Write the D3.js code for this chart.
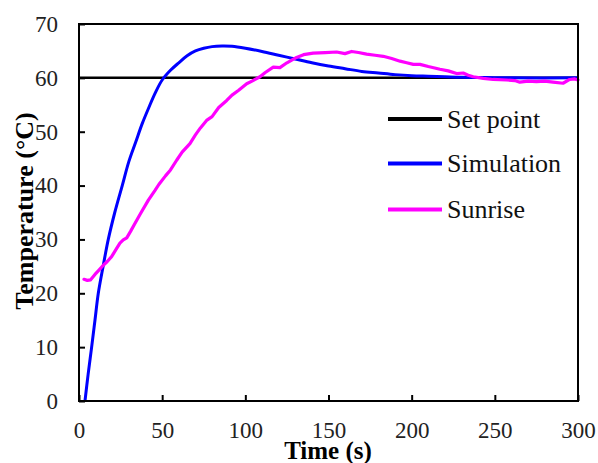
<!DOCTYPE html>
<html>
<head>
<meta charset="utf-8">
<script src="https://cdn.jsdelivr.net/npm/d3@7"></script>
<style>
  html, body { margin: 0; padding: 0; background: #fff; }
  svg { display: block; }
</style>
</head>
<body>
<svg id="chart" width="598" height="463"></svg>
<script>
// ---- data ----
const xTicks = [0, 50, 100, 150, 200, 250, 300];
const yTicks = [0, 10, 20, 30, 40, 50, 60, 70];
const seriesNames = ["Set point", "Simulation", "Sunrise"];
const seriesColors = ["#000000", "#0000ff", "#ff00ff"];

const setPointTime = [0, 300];
const setPointTemp = [60, 60];

const simTime = [3.6, 5.5, 7.6, 9.6, 11.6, 14.5, 17.6, 21.5, 26, 30, 34, 38, 42, 46, 50, 55, 60, 65, 70, 75, 80, 86, 92, 100, 110, 120, 130, 140, 150, 160, 170, 180, 190, 200, 210, 220, 230, 245, 260, 300];
const simTemp = [0, 5, 10, 15, 20, 25, 30, 35, 40, 44.5, 48, 51.5, 54.5, 57.3, 59.6, 61.4, 62.8, 64.1, 65, 65.5, 65.8, 65.9, 65.85, 65.5, 64.9, 64.2, 63.5, 62.8, 62.2, 61.7, 61.2, 60.9, 60.6, 60.4, 60.3, 60.2, 60.1, 60.05, 60, 60];

const sunTime = [3, 5, 7, 9.6, 12, 14.6, 17, 19.6, 22, 24.6, 26.6, 28.7, 31, 33.7, 37, 41.7, 45.7, 48, 52, 55, 58.7, 62, 66.7, 70, 73, 76.7, 80, 84, 88.8, 92, 96, 100.8, 104, 108.8, 112, 116.8, 120.8, 125, 130.8, 135, 140.8, 148, 154.9, 159.9, 163.9, 168, 172.9, 178, 182.9, 188, 193, 197, 201, 205, 210, 217, 222, 227, 231, 234, 237, 243, 249, 257, 262, 265, 270, 275, 280, 285, 291, 295, 298, 300];
const sunTemp = [22.6, 22.4, 22.5, 23.5, 24.3, 25.2, 25.9, 26.8, 28, 29.3, 29.9, 30.3, 31.5, 33, 34.8, 37.3, 39.1, 40.2, 41.8, 42.9, 44.7, 46.2, 47.8, 49.4, 50.7, 52.1, 52.8, 54.5, 55.8, 56.8, 57.7, 58.9, 59.4, 60.2, 61, 62, 61.9, 62.8, 63.8, 64.3, 64.6, 64.7, 64.8, 64.5, 64.9, 64.7, 64.4, 64.2, 64, 63.6, 63.1, 62.8, 62.5, 62.5, 62.1, 61.6, 61.3, 60.8, 60.9, 60.5, 60.2, 59.9, 59.7, 59.6, 59.5, 59.2, 59.4, 59.3, 59.4, 59.2, 59.0, 59.7, 59.8, 59.6];

// ---- layout ----
const FONT = "Liberation Serif";
const svg = d3.select("#chart");
const L = 79, R = 578, T = 24, B = 401;
const x = d3.scaleLinear().domain([0, 300]).range([L, R]);
const y = d3.scaleLinear().domain([0, 70]).range([B, T]);
const labelColor = "#222";

// axes
const xAxis = svg.append("g").attr("transform", `translate(0,${B})`)
  .call(d3.axisBottom(x).tickValues(xTicks).tickSizeInner(-6).tickSizeOuter(0).tickPadding(21));
const yAxis = svg.append("g").attr("transform", `translate(${L},0)`)
  .call(d3.axisLeft(y).tickValues(yTicks).tickSizeInner(-6).tickSizeOuter(0).tickPadding(21));
[xAxis, yAxis].forEach(g => {
  g.attr("font-family", FONT).attr("font-size", 23);
  g.select(".domain").remove();
  g.selectAll(".tick line").attr("stroke", "#000").attr("stroke-width", 2);
  g.selectAll(".tick text").attr("fill", labelColor);
});

// lines
const zip = (a, b) => a.map((v, i) => [v, b[i]]);
const smooth = d3.line().x(d => x(d[0])).y(d => y(d[1])).curve(d3.curveCatmullRom.alpha(0.5));
const straight = d3.line().x(d => x(d[0])).y(d => y(d[1]));

svg.append("path").datum(zip(setPointTime, setPointTemp)).attr("d", straight)
  .attr("fill", "none").attr("stroke", seriesColors[0]).attr("stroke-width", 2.5);
svg.append("path").datum(zip(simTime, simTemp)).attr("d", smooth)
  .attr("fill", "none").attr("stroke", seriesColors[1]).attr("stroke-width", 3);
svg.append("path").datum(zip(sunTime, sunTemp)).attr("d", straight)
  .attr("fill", "none").attr("stroke", seriesColors[2]).attr("stroke-width", 3.2)
  .attr("stroke-linejoin", "round").attr("stroke-linecap", "round");

// frame
svg.append("rect").attr("x", L).attr("y", T).attr("width", R - L).attr("height", B - T)
  .attr("fill", "none").attr("stroke", "#000").attr("stroke-width", 2);

// legend
const legendY = [119, 163.5, 209.5];
seriesNames.forEach((name, i) => {
  svg.append("line").attr("x1", 388).attr("x2", 442).attr("y1", legendY[i]).attr("y2", legendY[i])
    .attr("stroke", seriesColors[i]).attr("stroke-width", 4);
  svg.append("text").attr("x", 447).attr("y", legendY[i]).attr("dy", "0.33em")
    .attr("font-family", FONT).attr("font-size", 26).attr("fill", "#111").text(name);
});

// axis titles
svg.append("text").attr("x", 328).attr("y", 459).attr("text-anchor", "middle")
  .attr("font-family", FONT).attr("font-size", 25).attr("font-weight", "bold")
  .attr("fill", "#000").text("Time (s)");
svg.append("text").attr("transform", "translate(33,211) rotate(-90)").attr("text-anchor", "middle")
  .attr("font-family", FONT).attr("font-size", 26).attr("font-weight", "bold")
  .attr("fill", "#000").text("Temperature (°C)");
</script>
</body>
</html>
